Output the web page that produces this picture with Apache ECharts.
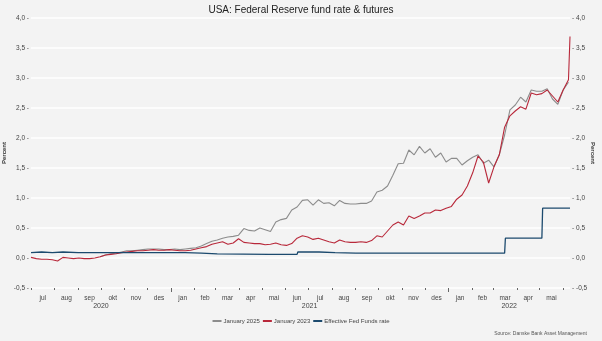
<!DOCTYPE html>
<html>
<head>
<meta charset="utf-8">
<script src="https://cdn.jsdelivr.net/npm/echarts@6/dist/echarts.min.js"></script>
<style>
  html, body { margin: 0; padding: 0; background: #f3f3f3; }
  #chart { width: 602px; height: 341px; }
</style>
</head>
<body>
<div id="chart"></div>
<script>
// Weekly observation dates (Wednesdays) for the two futures strips
const weeks = [
  '2020-07-01','2020-07-08','2020-07-15','2020-07-22','2020-07-29','2020-08-05','2020-08-12','2020-08-19','2020-08-26',
  '2020-09-02','2020-09-09','2020-09-16','2020-09-23','2020-09-30','2020-10-07','2020-10-14','2020-10-21','2020-10-28',
  '2020-11-04','2020-11-11','2020-11-18','2020-11-25','2020-12-02','2020-12-09','2020-12-16','2020-12-23','2020-12-30',
  '2021-01-06','2021-01-13','2021-01-20','2021-01-27','2021-02-03','2021-02-10','2021-02-17','2021-02-24',
  '2021-03-03','2021-03-10','2021-03-17','2021-03-24','2021-03-31','2021-04-07','2021-04-14','2021-04-21','2021-04-28',
  '2021-05-05','2021-05-12','2021-05-19','2021-05-26','2021-06-02','2021-06-09','2021-06-16','2021-06-23','2021-06-30',
  '2021-07-07','2021-07-14','2021-07-21','2021-07-28','2021-08-04','2021-08-11','2021-08-18','2021-08-25',
  '2021-09-01','2021-09-08','2021-09-15','2021-09-22','2021-09-29','2021-10-06','2021-10-13','2021-10-20','2021-10-27',
  '2021-11-03','2021-11-10','2021-11-17','2021-11-24','2021-12-01','2021-12-08','2021-12-15','2021-12-22','2021-12-29',
  '2022-01-05','2022-01-12','2022-01-19','2022-01-26','2022-02-02','2022-02-09','2022-02-16','2022-02-23',
  '2022-03-02','2022-03-09','2022-03-16','2022-03-23','2022-03-30','2022-04-06','2022-04-13','2022-04-20','2022-04-27',
  '2022-05-04','2022-05-11','2022-05-18','2022-05-25','2022-06-01','2022-06-08','2022-06-10'
];

// January 2023 fed funds future, implied rate (%)
const jan2023 = [
  0.01,-0.01,-0.02,-0.02,-0.03,-0.05,0.01,0.00,-0.01,
  0.00,-0.01,-0.01,0.00,0.02,0.05,0.06,0.07,0.09,
  0.10,0.11,0.12,0.12,0.13,0.14,0.13,0.13,0.14,
  0.13,0.12,0.12,0.13,0.15,0.17,0.19,0.23,
  0.25,0.27,0.23,0.25,0.32,0.26,0.25,0.24,0.24,
  0.22,0.23,0.25,0.22,0.21,0.24,0.33,0.37,0.35,
  0.31,0.33,0.30,0.27,0.25,0.30,0.27,0.26,
  0.26,0.27,0.26,0.29,0.37,0.35,0.45,0.55,0.60,
  0.55,0.70,0.66,0.70,0.75,0.75,0.80,0.79,0.83,
  0.86,0.98,1.05,1.20,1.42,1.70,1.60,1.25,
  1.52,1.72,2.18,2.37,2.45,2.52,2.48,2.75,2.72,
  2.74,2.80,2.70,2.60,2.80,2.97,3.69
];

// January 2025 fed funds future, implied rate (%), quoted from October 2020
const jan2025 = [
  null,null,null,null,null,null,null,null,null,
  null,null,null,null,0.02,0.05,0.07,0.08,0.10,
  0.12,0.12,0.13,0.14,0.15,0.15,0.15,0.14,0.14,
  0.15,0.14,0.15,0.16,0.17,0.20,0.24,0.28,
  0.30,0.33,0.35,0.36,0.38,0.49,0.46,0.45,0.50,
  0.47,0.44,0.60,0.64,0.66,0.80,0.85,0.96,0.97,
  0.88,0.97,0.91,0.92,0.87,0.96,0.91,0.90,
  0.90,0.91,0.91,0.95,1.10,1.13,1.20,1.38,1.57,
  1.58,1.80,1.72,1.86,1.75,1.82,1.68,1.75,1.60,
  1.66,1.66,1.55,1.62,1.68,1.72,1.58,1.63,
  1.52,1.72,2.05,2.47,2.55,2.68,2.60,2.80,2.78,
  2.78,2.82,2.65,2.56,2.80,2.93,null
];

// Effective Fed Funds rate (%), change points
const effrDates = [
  '2020-07-01','2020-07-15','2020-07-29','2020-08-12','2020-09-01','2021-01-20','2021-02-10','2021-03-03',
  '2021-05-10','2021-06-16','2021-06-17','2021-07-15','2021-08-05','2021-09-01','2022-03-16','2022-03-17',
  '2022-05-04','2022-05-05','2022-06-10'
];
const effr = [
  0.09,0.10,0.09,0.10,0.09,0.09,0.08,0.07,
  0.06,0.06,0.10,0.10,0.09,0.08,0.08,0.33,
  0.33,0.83,0.83
];

const seriesNames = ['January 2025', 'January 2023', 'Effective Fed Funds rate'];
const monthNames = ['jan','feb','mar','apr','mai','jun','jul','aug','sep','okt','nov','des'];
const axisStart = '2020-07-01';
const axisEnd = '2022-06-10';

const FONT = 'Liberation Sans';
const ts = s => Date.parse(s + 'T00:00:00Z');
const tMin = ts(axisStart);
const tMax = ts(axisEnd);

// month starts (ticks) and mid-month positions (labels) on the time scale
const monthTicks = [], monthMids = [];
{
  let y = new Date(tMin).getUTCFullYear(), m = new Date(tMin).getUTCMonth();
  while (Date.UTC(y, m, 1) <= tMax) {
    const start = Date.UTC(y, m, 1), next = Date.UTC(y, m + 1, 1);
    monthTicks.push(start);
    if (next <= tMax) monthMids.push((start + next) / 2);
    m++; if (m > 11) { m = 0; y++; }
  }
}
// year boundaries (ticks) and centre of each year's visible span (labels)
const yearTicks = [], yearMids = [];
for (let y = new Date(tMin).getUTCFullYear(); y <= new Date(tMax).getUTCFullYear(); y++) {
  const ys = Date.UTC(y, 0, 1);
  if (ys > tMin) yearTicks.push(ys);
  yearMids.push((Math.max(ys, tMin) + Math.min(Date.UTC(y + 1, 0, 1), tMax)) / 2);
}

const pairs = (dates, vals) => dates.map((d, i) => [ts(d), vals[i]]);
const fmt = v => v.toFixed(1).replace('.', ',');

const chart = echarts.init(document.getElementById('chart'), null, { renderer: 'canvas' });
chart.setOption({
  animation: false,
  backgroundColor: '#f3f3f3',
  textStyle: { fontFamily: FONT },
  title: [
    {
      text: 'USA: Federal Reserve fund rate & futures',
      left: 'center', top: 0,
      textStyle: { fontFamily: FONT, fontSize: 10, fontWeight: 'normal', color: '#222' }
    },
    {
      text: 'Source: Danske Bank Asset Management',
      right: 10, bottom: 0,
      textStyle: { fontFamily: FONT, fontSize: 5, fontWeight: 'normal', color: '#555' }
    }
  ],
  legend: {
    bottom: 12, left: 'center',
    itemWidth: 9, itemHeight: 2, itemGap: 3,
    icon: 'rect',
    textStyle: { fontFamily: FONT, fontSize: 6, color: '#444', padding: [0, 0, 0, -3] },
    data: seriesNames
  },
  grid: { left: 31, right: 32, top: 18, bottom: 53, containLabel: false, outerBoundsMode: 'none' },
  xAxis: [
    {
      type: 'value', min: tMin, max: tMax,
      axisLine: { show: false, onZero: false },
      splitLine: { show: false },
      axisTick: { show: true, customValues: monthTicks, length: 2, lineStyle: { color: '#666', width: 1 } },
      axisLabel: {
        customValues: monthMids, margin: 7, fontSize: 6.5, color: '#444', fontFamily: FONT,
        formatter: v => monthNames[new Date(v).getUTCMonth()]
      }
    },
    {
      type: 'value', min: tMin, max: tMax, position: 'bottom',
      axisLine: { show: false, onZero: false },
      splitLine: { show: false },
      axisTick: { show: true, customValues: yearTicks, length: 4, lineStyle: { color: '#666', width: 1 } },
      axisLabel: {
        customValues: yearMids, margin: 15, fontSize: 7, color: '#444', fontFamily: FONT,
        formatter: v => String(new Date(v).getUTCFullYear())
      }
    }
  ],
  yAxis: [
    {
      type: 'value', min: -0.5, max: 4, interval: 0.5, position: 'left',
      name: 'Percent', nameLocation: 'middle', nameGap: 24, nameRotate: 90, nameMoveOverlap: false,
      nameTextStyle: { fontFamily: FONT, fontSize: 6, fontWeight: 'bold', color: '#333' },
      axisLine: { show: false }, axisTick: { show: false },
      axisLabel: { margin: 2, fontSize: 6.5, color: '#444', fontFamily: FONT, formatter: v => fmt(v) + ' -' },
      splitLine: { show: true, lineStyle: { color: '#ffffff', width: 1.5 } }
    },
    {
      type: 'value', min: -0.5, max: 4, interval: 0.5, position: 'right',
      name: 'Percent', nameLocation: 'middle', nameGap: 20, nameRotate: -90, nameMoveOverlap: false,
      nameTextStyle: { fontFamily: FONT, fontSize: 6, fontWeight: 'bold', color: '#333' },
      axisLine: { show: false }, axisTick: { show: false },
      axisLabel: { margin: 2, fontSize: 6.5, color: '#444', fontFamily: FONT, formatter: v => '- ' + fmt(v) },
      splitLine: { show: false }
    }
  ],
  series: [
    {
      name: seriesNames[0], type: 'line', data: pairs(weeks, jan2025),
      showSymbol: false, symbol: 'none', connectNulls: false,
      lineStyle: { color: '#8c8c8c', width: 1.1 }, itemStyle: { color: '#8c8c8c' }
    },
    {
      name: seriesNames[1], type: 'line', data: pairs(weeks, jan2023),
      showSymbol: false, symbol: 'none',
      lineStyle: { color: '#b8283a', width: 1.1 }, itemStyle: { color: '#b8283a' }
    },
    {
      name: seriesNames[2], type: 'line', data: pairs(effrDates, effr),
      showSymbol: false, symbol: 'none',
      lineStyle: { color: '#1c4a6e', width: 1.3 }, itemStyle: { color: '#1c4a6e' }
    }
  ]
});
</script>
</body>
</html>
